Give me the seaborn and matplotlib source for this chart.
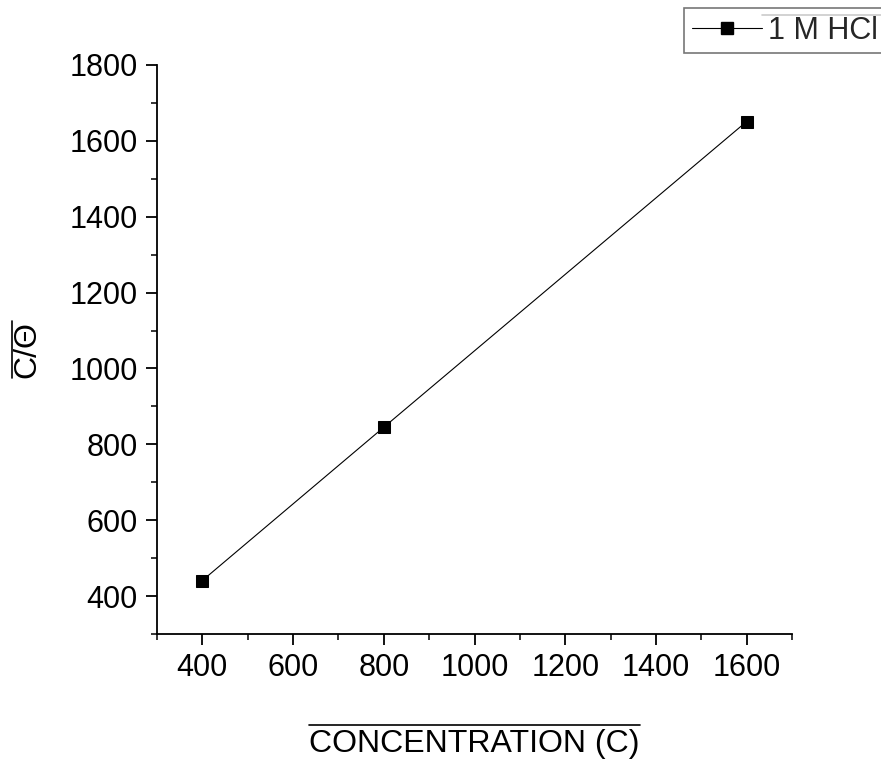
import matplotlib
matplotlib.use("Agg")
import matplotlib.pyplot as plt
import seaborn as sns
import pandas as pd
from matplotlib.lines import Line2D

concentration = [400, 800, 1600]
c_over_theta = [441, 845, 1651]
series_name = "1 M HCl"
x_label = "CONCENTRATION (C)"
y_label = "C/\u0398"
x_ticks = [400, 600, 800, 1000, 1200, 1400, 1600]
y_ticks = [400, 600, 800, 1000, 1200, 1400, 1600, 1800]

sns.set_theme(style="ticks")
plt.rcParams['font.family'] = ['Liberation Sans', 'DejaVu Sans']

df = pd.DataFrame({"C": concentration, "CT": c_over_theta, "s": series_name})

fig = plt.figure(figsize=(8.81, 7.64), dpi=100)
ax = fig.add_axes([157/881, 1-634/764, (792-157)/881, (634-65)/764])

sns.lineplot(data=df, x="C", y="CT", hue="s", palette=["black"], marker="s",
             markersize=9, linewidth=0.8, markeredgecolor="black", ax=ax,
             legend=False)

ax.set_xlim(300, 1700)
ax.set_ylim(300, 1800)
ax.set_xticks(x_ticks)
ax.set_yticks(y_ticks)
ax.set_xticks(range(300, 1701, 100), minor=True)
ax.set_yticks(range(300, 1801, 100), minor=True)
ax.tick_params(axis='both', which='major', direction='out', length=8, width=1.3,
               labelsize=22, colors='black', pad=6)
ax.tick_params(axis='both', which='minor', direction='out', length=4.5, width=1.3)
for s in ['top', 'right']:
    ax.spines[s].set_visible(False)
for s in ['left', 'bottom']:
    ax.spines[s].set_linewidth(1.3)
    ax.spines[s].set_color('black')

ax.set_xlabel(x_label, fontsize=23, labelpad=33, color='black')
ax.set_ylabel(y_label, fontsize=23, labelpad=19, color='black')

handle = Line2D([], [], color='black', linewidth=0.8, marker='s', markersize=9)
leg = fig.legend([handle], [series_name], loc='upper left',
                 bbox_to_anchor=(684/881, 1-8/764), frameon=True, fancybox=False,
                 fontsize=22, handlelength=2.3, handletextpad=0.2,
                 borderpad=0.25, borderaxespad=0)
leg.get_frame().set_edgecolor('#555555')
leg.get_frame().set_linewidth(1.2)

fig.canvas.draw()
r = fig.canvas.get_renderer()
inv = fig.transFigure.inverted()
W, H = 881.0, 764.0

# overline for x label
bb = ax.xaxis.label.get_window_extent(r)
(x0, y0), (x1, y1) = inv.transform([[bb.x0, bb.y0], [bb.x1, bb.y1]])
fig.add_artist(Line2D([x0, x1], [y1 + 4/H, y1 + 4/H], color='black',
                      linewidth=1.2, transform=fig.transFigure))
# overline for y label (rotated: line to the left)
bb = ax.yaxis.label.get_window_extent(r)
(x0, y0), (x1, y1) = inv.transform([[bb.x0, bb.y0], [bb.x1, bb.y1]])
fig.add_artist(Line2D([x0 - 1/W, x0 - 1/W], [y0, y1], color='black',
                      linewidth=1.2, transform=fig.transFigure))
# overline for legend text
t = leg.get_texts()[0]
bb = t.get_window_extent(r)
(x0, y0), (x1, y1) = inv.transform([[bb.x0, bb.y0], [bb.x1, bb.y1]])
fig.add_artist(Line2D([x0 - 6/W, x1 + 10/W], [y1 + 1/H, y1 + 1/H], color='black',
                      linewidth=1.2, transform=fig.transFigure))

fig.savefig("out.png", dpi=100)
